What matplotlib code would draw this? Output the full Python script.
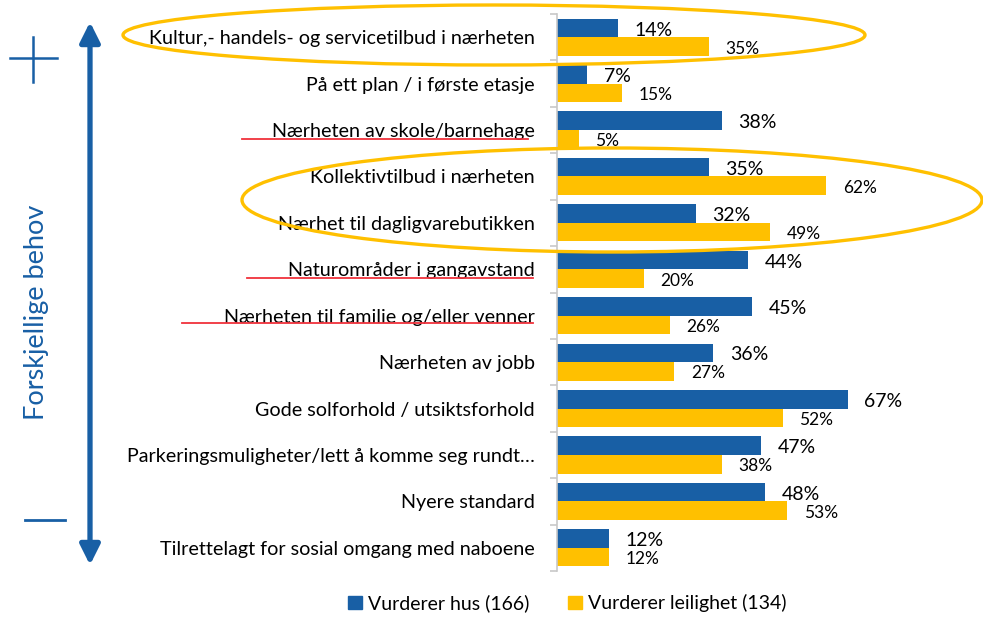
import numpy as np
import matplotlib
matplotlib.use("Agg")
import matplotlib.pyplot as plt
from matplotlib.patches import Ellipse, Patch

plt.rcParams['font.family'] = ['Lato', 'DejaVu Sans']

# data
kategorier = ["Kultur,- handels- og servicetilbud i nærheten",
              "På ett plan / i første etasje",
              "Nærheten av skole/barnehage",
              "Kollektivtilbud i nærheten",
              "Nærhet til dagligvarebutikken",
              "Naturområder i gangavstand",
              "Nærheten til familie og/eller venner",
              "Nærheten av jobb",
              "Gode solforhold / utsiktsforhold",
              "Parkeringsmuligheter/lett å komme seg rundt…",
              "Nyere standard",
              "Tilrettelagt for sosial omgang med naboene"]
hus = [14, 7, 38, 35, 32, 44, 45, 36, 67, 47, 48, 12]
leilighet = [35, 15, 5, 62, 49, 20, 26, 27, 52, 38, 53, 12]
serie_navn = ["Vurderer hus (166)", "Vurderer leilighet (134)"]

blaa = "#185FA5"
gul = "#FFC000"

W, H = 983, 621
fig = plt.figure(figsize=(W / 100, H / 100), dpi=100)

ax = fig.add_axes([557 / W, 1 - 571 / H, 1 - 557 / W, (571 - 14) / H])
y = np.arange(len(kategorier))
bh = 0.4
ax.barh(y - bh / 2, hus, height=bh, color=blaa, zorder=2)
ax.barh(y + bh / 2, leilighet, height=bh, color=gul, zorder=2)

for i in range(len(kategorier)):
    ax.annotate(f"{hus[i]}%", (hus[i], y[i] - bh / 2), xytext=(12, -1.5),
                textcoords="offset points", va="center", ha="left", fontsize=14)
    ax.annotate(f"{leilighet[i]}%", (leilighet[i], y[i] + bh / 2), xytext=(12, -1.5),
                textcoords="offset points", va="center", ha="left", fontsize=12.5)

ax.set_xlim(0, (W - 557) / 4.34)
ax.set_ylim(len(kategorier) - 0.5, -0.5)
ax.set_yticks(y)
ax.set_yticklabels(kategorier, fontsize=14.2)
ax.tick_params(axis="y", which="major", length=0, pad=16)
ax.set_yticks(np.arange(len(kategorier) + 1) - 0.5, minor=True)
ax.tick_params(axis="y", which="minor", length=5, width=1.2, color="#C8C8C8")
ax.set_xticks([])
for s in ["top", "right", "bottom"]:
    ax.spines[s].set_visible(False)
ax.spines["left"].set_color("#C8C8C8")
ax.spines["left"].set_linewidth(1.2)

fig.legend(handles=[Patch(color=blaa), Patch(color=gul)], labels=serie_navn,
           loc="lower center", bbox_to_anchor=(0.577, -0.014), ncol=2, frameon=False,
           fontsize=14, handlelength=0.7, handleheight=0.7, handletextpad=0.3,
           columnspacing=2.0)

# overlay in pixel coordinates for the hand drawn marks
ov = fig.add_axes([0, 0, 1, 1], facecolor="none")
ov.set_xlim(0, W)
ov.set_ylim(H, 0)
ov.axis("off")

ov.add_patch(Ellipse((494, 35), 742, 60, fill=False, edgecolor=gul, lw=2.4))
ov.add_patch(Ellipse((612, 200), 740, 104, fill=False, edgecolor=gul, lw=2.4))

rod = "#F0323C"
ov.plot([242, 528], [139, 139], color=rod, lw=1.3)
ov.plot([247, 533], [278, 278], color=rod, lw=1.3)
ov.plot([182, 533], [323, 323], color=rod, lw=1.3)

ov.annotate("", xy=(90, 22), xytext=(90, 565),
            arrowprops=dict(arrowstyle="<|-|>,head_length=0.4,head_width=0.2",
                            mutation_scale=30, lw=3.8, color=blaa,
                            shrinkA=0, shrinkB=0))
ov.plot([10, 57], [58, 58], color=blaa, lw=1.8)
ov.plot([33, 33], [37, 82], color=blaa, lw=1.8)
ov.plot([25, 65], [520, 520], color=blaa, lw=2)

ov.text(37, 312, "Forskjellige behov", rotation=90, ha="center", va="center",
        fontsize=19.5, color=blaa)

fig.savefig("out.png", dpi=100)
